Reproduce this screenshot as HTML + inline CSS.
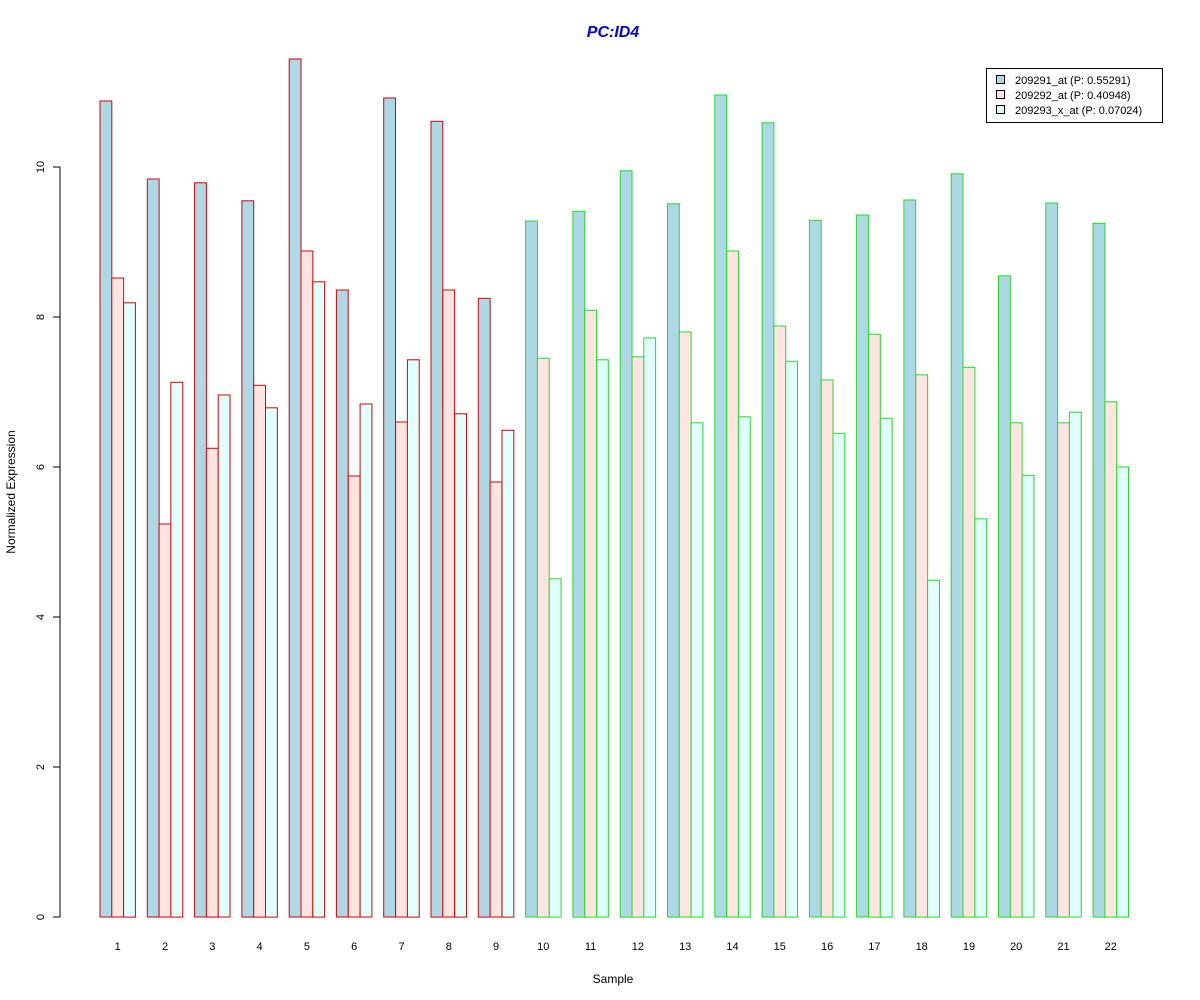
<!DOCTYPE html>
<html><head><meta charset="utf-8"><style>body{margin:0;background:#fff}svg{display:block;font-family:"Liberation Sans",Arial,sans-serif}</style></head>
<body>
<svg id="s" width="1200" height="1000" xmlns="http://www.w3.org/2000/svg">
<rect width="1200" height="1000" fill="#fff"/>
<text x="613" y="37" text-anchor="middle" font-size="16" font-weight="bold" font-style="italic" fill="#0000ee">PC:ID4</text>
<text x="613" y="983" text-anchor="middle" font-size="12">Sample</text>
<text transform="translate(15,492) rotate(-90)" text-anchor="middle" font-size="12">Normalized Expression</text>
<line x1="60" y1="917" x2="60" y2="167" stroke="#000"/>
<g id="yt"></g><g id="bars"></g>
<rect x="986.5" y="68.5" width="176" height="54" fill="#fff" stroke="#000"/>
<rect x="996.5" y="75.5" width="8" height="8" fill="#ADD8E6" stroke="#000"/>
<rect x="996.5" y="90.5" width="8" height="8" fill="#FFE4E1" stroke="#000"/>
<rect x="996.5" y="105.5" width="8" height="8" fill="#E0FFFF" stroke="#000"/>
<text x="1015" y="84" font-size="11">209291_at (P: 0.55291)</text>
<text x="1015" y="99" font-size="11">209292_at (P: 0.40948)</text>
<text x="1015" y="114" font-size="11">209293_x_at (P: 0.07024)</text>
</svg>
<script>
var d=[[10.88,8.52,8.19],[9.84,5.24,7.13],[9.79,6.25,6.96],[9.55,7.09,6.79],[11.44,8.88,8.47],[8.36,5.88,6.84],[10.92,6.6,7.43],[10.61,8.36,6.71],[8.25,5.8,6.49],[9.28,7.45,4.51],[9.41,8.09,7.43],[9.95,7.47,7.72],[9.51,7.8,6.59],[10.96,8.88,6.67],[10.59,7.88,7.41],[9.29,7.16,6.45],[9.36,7.77,6.65],[9.56,7.23,4.49],[9.91,7.33,5.31],[8.55,6.59,5.89],[9.52,6.59,6.73],[9.25,6.87,6]];
var f=["#ADD8E6","#FFE4E1","#E0FFFF"],h="",w=11.82,g=47.29;
d.forEach(function(r,i){var c=i<9?"#dd0000":"#22dd22";var x0=100+g*i;
r.forEach(function(v,j){var y=917-75*v;h+='<rect x="'+(x0+w*j).toFixed(1)+'" y="'+y.toFixed(1)+'" width="'+w+'" height="'+(75*v).toFixed(1)+'" fill="'+f[j]+'" stroke="'+c+'"/>';});
h+='<text x="'+(x0+w*1.5).toFixed(1)+'" y="950" text-anchor="middle" font-size="11">'+(i+1)+'</text>';});
document.getElementById("bars").innerHTML=h;
var t="";for(var k=0;k<=10;k+=2){var y=917-75*k;t+='<line x1="53" y1="'+y+'" x2="60" y2="'+y+'" stroke="#000"/><text transform="translate(44,'+y+') rotate(-90)" text-anchor="middle" font-size="11">'+k+'</text>';}
document.getElementById("yt").innerHTML=t;
</script>
</body></html>
